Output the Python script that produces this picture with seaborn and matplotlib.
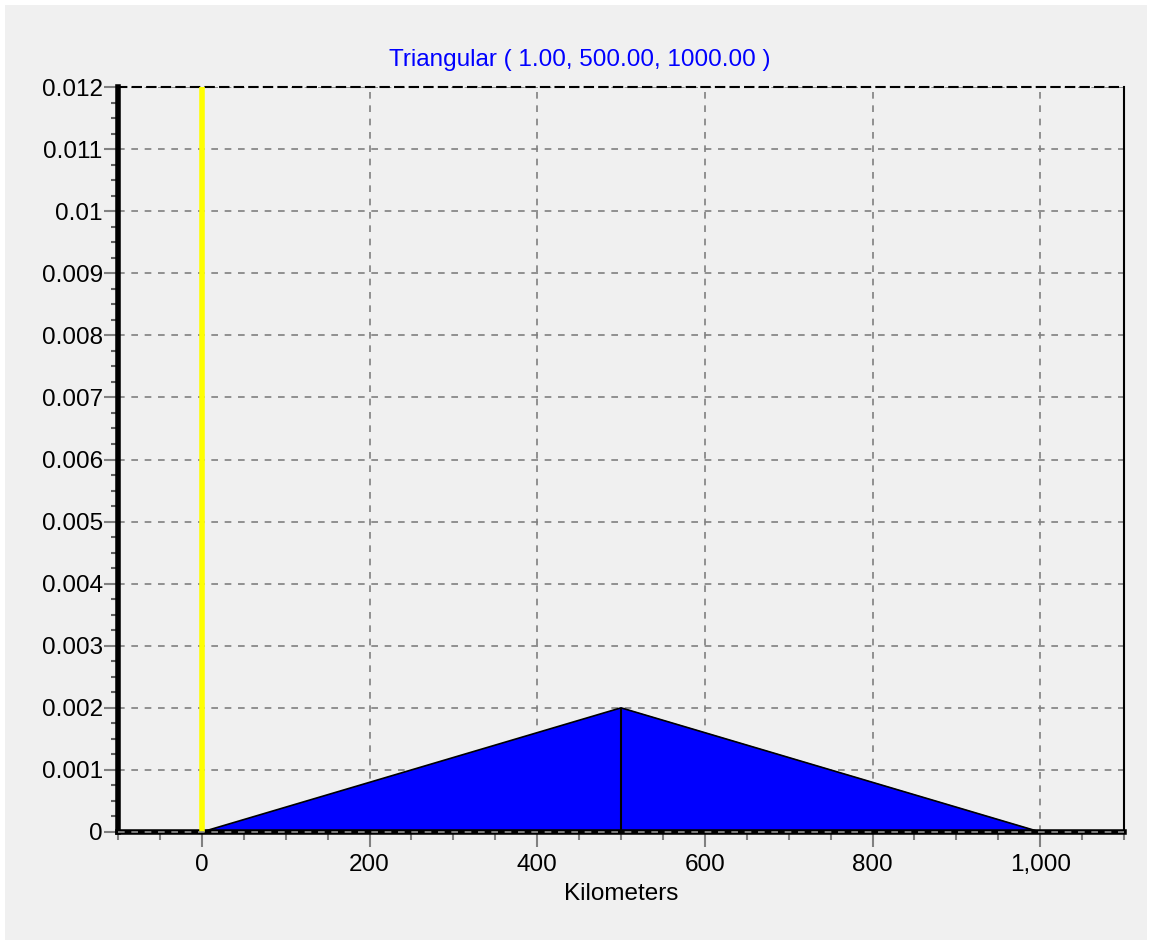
import numpy as np
import pandas as pd
import seaborn as sns
import matplotlib.pyplot as plt
from matplotlib.ticker import MultipleLocator, FuncFormatter
from matplotlib.patches import Rectangle

# Triangular distribution (min, mode, max)
km = [0, 500, 1000]
density = [0, 0.002, 0]
marker_x = 0
title = "Triangular ( 1.00, 500.00, 1000.00 )"

df = pd.DataFrame({"Kilometers": km, "Density": density})

sns.set_style("white")
plt.rcParams["font.family"] = ["Liberation Sans", "DejaVu Sans"]

bg = "#f0f0f0"
fs = 17.5
fig = plt.figure(figsize=(11.52, 9.43), dpi=100, facecolor="white")
fig.patches.append(Rectangle((5 / 1152, 3 / 943), 1 - 10 / 1152, 1 - 8 / 943,
                             transform=fig.transFigure, facecolor=bg,
                             edgecolor="none", zorder=-1))
ax = fig.add_axes([118 / 1152, 1 - 832 / 943, (1124 - 118) / 1152, (832 - 87) / 943])
ax.set_facecolor(bg)

# filled triangle
ax.fill_between(df["Kilometers"], df["Density"], color="#0000ff", zorder=2)
sns.lineplot(data=df, x="Kilometers", y="Density", color="black", lw=1.2, ax=ax, zorder=3)
ax.vlines(km[1], 0, density[1], color="black", lw=1.5, zorder=3)

# yellow marker line
ax.axvline(marker_x, color="#ffff00", lw=4, zorder=4)

ax.set_xlim(-100, 1100)
ax.set_ylim(0, 0.012)

ax.xaxis.set_major_locator(MultipleLocator(200))
ax.xaxis.set_minor_locator(MultipleLocator(50))
ax.yaxis.set_major_locator(MultipleLocator(0.001))
ax.yaxis.set_minor_locator(MultipleLocator(0.00025))
ax.xaxis.set_major_formatter(FuncFormatter(lambda v, p: f"{v:,.0f}"))
ax.yaxis.set_major_formatter(FuncFormatter(lambda v, p: "0" if abs(v) < 1e-12 else f"{v:g}"))

ax.grid(True, which="major", color="#808080", linestyle=(0, (4, 4)), lw=1.2, zorder=1)
# dashed grid line drawn over the bottom spine, as in the original
ax.axhline(0, color="#909090", linestyle=(0, (4, 4)), lw=1.2, zorder=5, clip_on=False)

ax.tick_params(axis="both", which="both", bottom=True, left=True, direction="out")
ax.tick_params(axis="both", which="major", labelsize=fs, colors="#808080", labelcolor="black")
ax.tick_params(axis="x", which="major", length=11, width=1.5, pad=5)
ax.tick_params(axis="x", which="minor", length=6, width=1.5, colors="#808080")
ax.tick_params(axis="y", which="major", length=10, width=1.5, pad=1)
ax.tick_params(axis="y", which="minor", length=5, width=1.5, colors="#606060")

for side in ["left", "bottom"]:
    ax.spines[side].set_linewidth(4)
    ax.spines[side].set_color("black")
ax.spines["right"].set_linewidth(1.5)
ax.spines["right"].set_color("black")
ax.spines["top"].set_linewidth(1.5)
ax.spines["top"].set_color("black")
ax.spines["top"].set_linestyle((0, (4, 3)))

ax.set_xlabel("Kilometers", fontsize=fs, labelpad=5, color="black")
ax.set_ylabel("")
fig.text(580 / 1152, 1 - 60 / 943, title, color="#0000ff", fontsize=fs,
         ha="center", va="center")

fig.savefig("out.png", dpi=100, facecolor=fig.get_facecolor())
